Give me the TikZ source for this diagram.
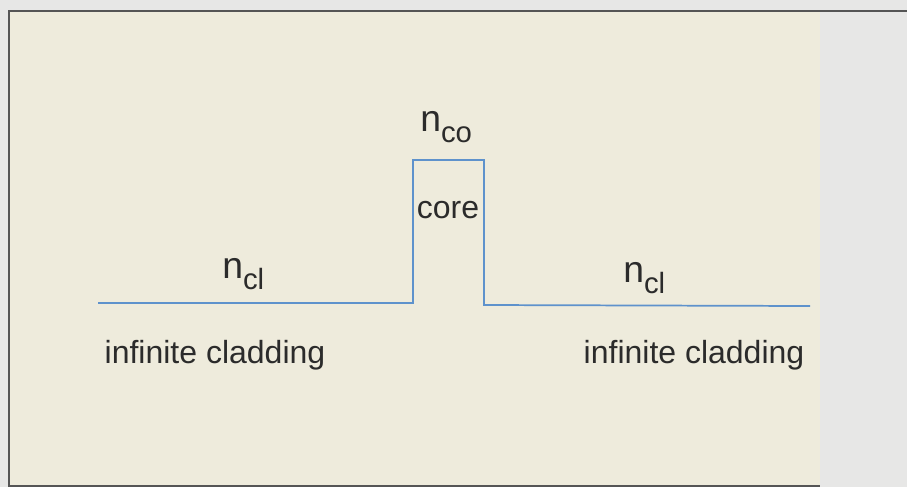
\documentclass[tikz,border=0pt]{standalone}
\usepackage{fontspec}
\setmainfont{Liberation Sans}
\usepackage{tikz}

\definecolor{paper}{HTML}{EEEBDC}
\definecolor{margin}{HTML}{E7E7E6}
\definecolor{profile}{HTML}{5E92CC}
\definecolor{ink}{HTML}{2B2B2B}

\newcommand{\idx}[1]{{\fontsize{28}{30}\selectfont n}\raisebox{-8.5pt}{\fontsize{22}{24}\selectfont #1}}

\begin{document}
\begin{tikzpicture}[x=0.75pt,y=-0.75pt,
  lbl/.style={inner sep=0pt,text=ink,font=\fontsize{24}{28}\selectfont}]
\useasboundingbox (0,0) rectangle (907,487);
\fill[margin] (0,0) rectangle (907,487);
\fill[paper] (9,11) rectangle (820,486);
\draw[ink!80,line width=1.6pt] (907,11) -- (9,11) -- (9,486) -- (820,486);

% index profile
\coordinate (clL) at (98,303);
\coordinate (coBL) at (413,303);
\coordinate (coTL) at (413,160);
\coordinate (coTR) at (484,160);
\coordinate (coBR) at (484,305);
\coordinate (clR) at (810,306);
\draw[profile,line width=1.3pt] (clL) -- (coBL) -- (coTL) -- (coTR) -- (coBR) -- (clR);

\node[lbl,anchor=base west] (nco) at (420,131) {\idx{co}};
\node[lbl,anchor=base] (core) at (448,218) {core};
\node[lbl,anchor=base west] (nclL) at (222,278) {\idx{cl}};
\node[lbl,anchor=base west] (nclR) at (623,282) {\idx{cl}};
\node[lbl,anchor=base] (cladL) at (215,363) {infinite cladding};
\node[lbl,anchor=base] (cladR) at (694,363) {infinite cladding};
\end{tikzpicture}
\end{document}
